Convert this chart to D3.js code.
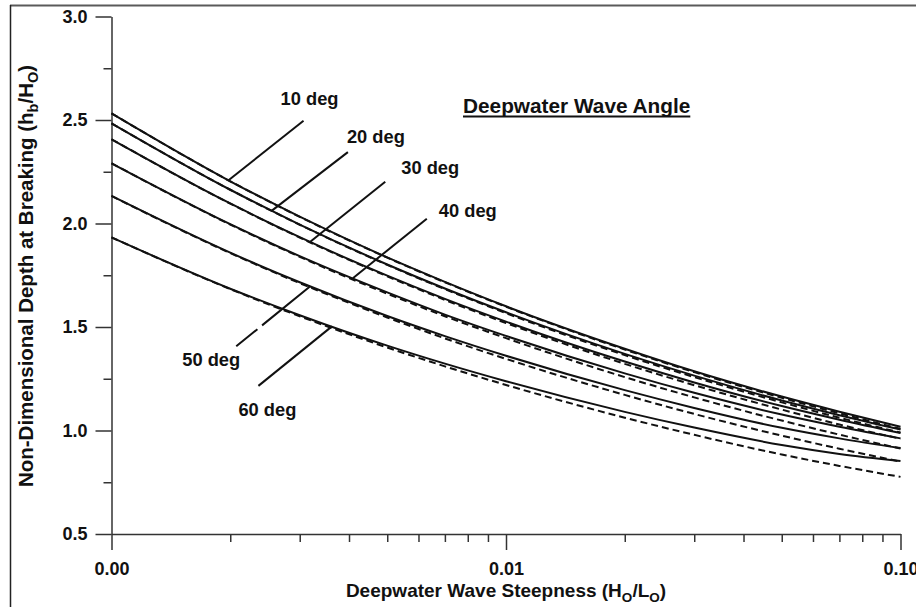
<!DOCTYPE html>
<html>
<head>
<meta charset="utf-8">
<script src="https://cdn.jsdelivr.net/npm/d3@7/dist/d3.min.js"></script>
<style>
  html, body { margin: 0; padding: 0; background: #fff; }
  svg { display: block; }
  text { font-family: "Liberation Sans", Arial, sans-serif; font-weight: bold; fill: #111; }
</style>
</head>
<body>
<svg id="chart" width="916" height="607"></svg>
<script>
// Deepwater wave steepness (H0/L0), log spaced sample points
const steepness = [0.001, 0.002, 0.003, 0.005, 0.007, 0.01, 0.02, 0.03, 0.05, 0.07, 0.1];

// Deepwater wave angles
const angles = ["10 deg", "20 deg", "30 deg", "40 deg", "50 deg", "60 deg"];

// Non-dimensional depth at breaking hb/H0, solid curves
const solid10 = [2.532, 2.204, 2.033, 1.836, 1.718, 1.600, 1.395, 1.286, 1.164, 1.091, 1.018];
const solid20 = [2.484, 2.163, 1.995, 1.802, 1.686, 1.571, 1.370, 1.265, 1.145, 1.074, 1.005];
const solid30 = [2.407, 2.097, 1.934, 1.748, 1.636, 1.526, 1.333, 1.232, 1.118, 1.052, 0.988];
const solid40 = [2.291, 1.997, 1.842, 1.667, 1.560, 1.457, 1.276, 1.182, 1.077, 1.018, 0.962];
const solid50 = [2.133, 1.859, 1.716, 1.553, 1.456, 1.361, 1.195, 1.109, 1.013, 0.962, 0.915];
const solid60 = [1.933, 1.685, 1.557, 1.410, 1.323, 1.238, 1.090, 1.014, 0.930, 0.887, 0.853];

// Same quantity, dashed companion curves
const dashed10 = [2.532, 2.204, 2.032, 1.835, 1.716, 1.598, 1.391, 1.282, 1.158, 1.083, 1.008];
const dashed20 = [2.484, 2.163, 1.994, 1.800, 1.683, 1.567, 1.364, 1.258, 1.136, 1.062, 0.990];
const dashed30 = [2.407, 2.096, 1.932, 1.745, 1.631, 1.519, 1.322, 1.219, 1.101, 1.029, 0.960];
const dashed40 = [2.291, 1.995, 1.839, 1.661, 1.552, 1.446, 1.258, 1.160, 1.048, 0.980, 0.913];
const dashed50 = [2.133, 1.857, 1.712, 1.546, 1.445, 1.346, 1.172, 1.080, 0.975, 0.912, 0.850];
const dashed60 = [1.933, 1.683, 1.552, 1.401, 1.310, 1.220, 1.062, 0.979, 0.884, 0.829, 0.776];

// Steepness at which each angle's callout touches its solid curve
const calloutAt = [0.00198, 0.00255, 0.00319, 0.00409, 0.00319, 0.00362];

// Axis ticks
const yMajor = [0.5, 1.0, 1.5, 2.0, 2.5, 3.0];
const yMinor = [0.75, 1.25, 1.75, 2.25, 2.75];
const xMajor = [0.001, 0.01, 0.1];
const xMajorLabels = ["0.00", "0.01", "0.10"];
const xMinor = [0.002, 0.003, 0.004, 0.005, 0.006, 0.007, 0.008, 0.009,
                0.02, 0.03, 0.04, 0.05, 0.06, 0.07, 0.08, 0.09];

const solidSeries = [solid10, solid20, solid30, solid40, solid50, solid60];
const dashedSeries = [dashed10, dashed20, dashed30, dashed40, dashed50, dashed60];

// ---- layout ----
const plot = { left: 111.5, right: 900.5, top: 16.5, bottom: 534 };
const svg = d3.select("#chart");

const x = d3.scaleLog().domain([0.001, 0.1]).range([plot.left, plot.right]);
const y = d3.scaleLinear().domain([0.5, 3.0]).range([plot.bottom, plot.top]);

// page frame (top and left rules)
svg.append("line").attr("x1", 10).attr("x2", 916).attr("y1", 5.5).attr("y2", 5.5)
  .attr("stroke", "#5a5a5a").attr("stroke-width", 2);
svg.append("line").attr("x1", 10.5).attr("x2", 10.5).attr("y1", 5).attr("y2", 607)
  .attr("stroke", "#222").attr("stroke-width", 1.5);

const axisColor = "#333";
function styleAxis(g) {
  g.selectAll("path.domain").attr("stroke", axisColor).attr("stroke-width", 1.5);
  g.selectAll(".tick line").attr("stroke", axisColor).attr("stroke-width", 1.5);
}

// y axis
const gy = svg.append("g").attr("transform", `translate(${plot.left},0)`)
  .call(d3.axisLeft(y).tickValues(yMajor).tickSize(16).tickSizeOuter(0).tickPadding(8)
    .tickFormat(d3.format(".1f")));
styleAxis(gy);
gy.selectAll("text").attr("font-size", 18).attr("font-family", null).attr("fill", "#111");
const gyMinor = svg.append("g").attr("transform", `translate(${plot.left},0)`)
  .call(d3.axisLeft(y).tickValues(yMinor).tickSize(8).tickFormat(""));
gyMinor.select("path.domain").remove();
styleAxis(gyMinor);

// x axis
const gx = svg.append("g").attr("transform", `translate(0,${plot.bottom})`)
  .call(d3.axisBottom(x).tickValues(xMajor).tickSize(16).tickSizeOuter(0)
    .tickFormat((d, i) => xMajorLabels[i]));
styleAxis(gx);
gx.selectAll("text").attr("font-size", 18).attr("font-family", null).attr("fill", "#111")
  .attr("y", 41).attr("dy", 0);
const gxMinor = svg.append("g").attr("transform", `translate(0,${plot.bottom})`)
  .call(d3.axisBottom(x).tickValues(xMinor).tickSize(8).tickFormat(""));
gxMinor.select("path.domain").remove();
styleAxis(gxMinor);

// curves
const line = d3.line()
  .x((d, i) => x(steepness[i]))
  .y(d => y(d))
  .curve(d3.curveMonotoneX);

svg.append("g").selectAll("path.dashed").data(dashedSeries).join("path")
  .attr("class", "dashed")
  .attr("d", line)
  .attr("fill", "none").attr("stroke", "#111").attr("stroke-width", 2)
  .attr("stroke-dasharray", "7,4");

svg.append("g").selectAll("path.solid").data(solidSeries).join("path")
  .attr("class", "solid")
  .attr("d", line)
  .attr("fill", "none").attr("stroke", "#111").attr("stroke-width", 2);

// value of a series at arbitrary steepness (linear in log-x between samples)
function valueAt(series, s) {
  const ls = Math.log10(s);
  for (let i = 0; i < steepness.length - 1; i++) {
    const a = Math.log10(steepness[i]), b = Math.log10(steepness[i + 1]);
    if (ls >= a && ls <= b) {
      const t = (ls - a) / (b - a);
      return series[i] + t * (series[i + 1] - series[i]);
    }
  }
  return series[series.length - 1];
}

// callouts: leader from the curve, then the angle label
const calloutLayout = [
  { dx: 75, dy: -59.5, lx: 6, ly: -15.5, gap: false },
  { dx: 76, dy: -58.5, lx: 28, ly: -9.5, gap: false },
  { dx: 75, dy: -60, lx: 45, ly: -7.5, gap: false },
  { dx: 74, dy: -59.5, lx: 41, ly: -2, gap: false },
  { dx: -74, dy: 60, lx: -25, ly: 19.5, gap: true },
  { dx: -73.5, dy: 59.5, lx: 9, ly: 30.5, gap: false }
];

const callouts = svg.append("g");
angles.forEach((name, i) => {
  const lay = calloutLayout[i];
  const ax = x(calloutAt[i]);
  const ay = y(valueAt(solidSeries[i], calloutAt[i]));
  const ex = ax + lay.dx, ey = ay + lay.dy;
  const ln = callouts.append("line")
    .attr("x1", ax).attr("y1", ay).attr("x2", ex).attr("y2", ey)
    .attr("stroke", "#111").attr("stroke-width", 2);
  if (lay.gap) ln.attr("stroke-dasharray", "62,6,200");
  callouts.append("text")
    .attr("x", ex + lay.lx).attr("y", ey + lay.ly)
    .attr("text-anchor", "middle").attr("font-size", 18.3)
    .text(name);
});

// legend heading, underlined
const heading = svg.append("text")
  .attr("x", 463).attr("y", 113).attr("font-size", 20.8)
  .text("Deepwater Wave Angle");
const hw = heading.node().getComputedTextLength();
svg.append("line").attr("x1", 463).attr("x2", 463 + hw).attr("y1", 116.5).attr("y2", 116.5)
  .attr("stroke", "#111").attr("stroke-width", 2);

// axis titles with subscripts
const xt = svg.append("text").attr("x", 506).attr("y", 597)
  .attr("text-anchor", "middle").attr("font-size", 19);
xt.append("tspan").text("Deepwater Wave Steepness (H");
xt.append("tspan").attr("dy", 4.5).attr("font-size", 13.5).text("O");
xt.append("tspan").attr("dy", -4.5).text("/L");
xt.append("tspan").attr("dy", 4.5).attr("font-size", 13.5).text("O");
xt.append("tspan").attr("dy", -4.5).text(")");

const yt = svg.append("text")
  .attr("transform", "translate(32.5,276) rotate(-90)")
  .attr("text-anchor", "middle").attr("font-size", 20.5);
yt.append("tspan").text("Non-Dimensional Depth at Breaking (h");
yt.append("tspan").attr("dy", 5).attr("font-size", 14.5).text("b");
yt.append("tspan").attr("dy", -5).text("/H");
yt.append("tspan").attr("dy", 5).attr("font-size", 14.5).text("O");
yt.append("tspan").attr("dy", -5).text(")");
</script>
</body>
</html>
